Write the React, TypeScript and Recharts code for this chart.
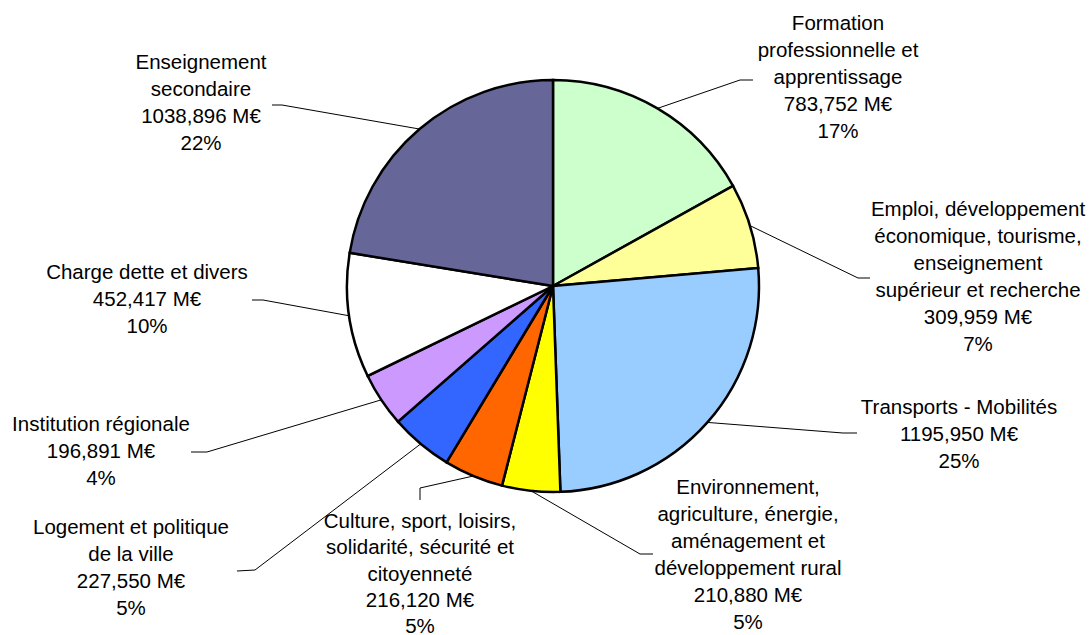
import React from "react";
import { PieChart, Pie, Cell } from "recharts";

// libellés (une ligne par entrée), montants en M€, pourcentages affichés
const NAMES: string[][] = [
  ["Formation", "professionnelle et", "apprentissage"],
  ["Emploi, développement", "économique, tourisme,", "enseignement", "supérieur et recherche"],
  ["Transports - Mobilités"],
  ["Environnement,", "agriculture, énergie,", "aménagement et", "développement rural"],
  ["Culture, sport, loisirs,", "solidarité, sécurité et", "citoyenneté"],
  ["Logement et politique", "de la ville"],
  ["Institution régionale"],
  ["Charge dette et divers"],
  ["Enseignement", "secondaire"],
];
const VALUES = [783.752, 309.959, 1195.95, 210.88, 216.12, 227.55, 196.891, 452.417, 1038.896];
const PERCENTS = ["17%", "7%", "25%", "5%", "5%", "5%", "4%", "10%", "22%"];
const COLORS = ["#CCFFCC", "#FFFF99", "#99CCFF", "#FFFF00", "#FF6600", "#3366FF", "#CC99FF", "#FFFFFF", "#666699"];

// placement des étiquettes : centre du texte (1re ligne), coude et fin du trait de rappel
const LABEL_POS = [
  { tx: 838, ty: 23, ex: 740, ey: 80, hx: 753, hy: 80, lh: 27 },
  { tx: 978, ty: 209, ex: 858, ey: 278, hx: 870, hy: 278, lh: 27 },
  { tx: 959, ty: 407, ex: 843, ey: 433, hx: 857, hy: 433, lh: 27 },
  { tx: 748, ty: 487, ex: 640, ey: 554, hx: 653, hy: 554, lh: 27 },
  { tx: 420, ty: 521, ex: 420, ey: 488, hx: 420, hy: 500, lh: 26.3 },
  { tx: 131, ty: 527, ex: 255, ey: 570, hx: 237, hy: 571, lh: 27 },
  { tx: 101, ty: 424, ex: 207, ey: 452, hx: 191, hy: 452, lh: 27 },
  { tx: 147, ty: 272, ex: 263, ey: 300, hx: 252, hy: 300, lh: 27 },
  { tx: 201, ty: 62, ex: 282, ey: 105, hx: 272, hy: 105, lh: 27 },
];

const data = VALUES.map((v, i) => ({ name: NAMES[i].join(" "), value: v }));
const RAD = Math.PI / 180;

function fmt(v: number) {
  return v.toFixed(3).replace(".", ",") + " M€";
}

function renderLabel(props: any) {
  const { cx, cy, midAngle, outerRadius, index } = props;
  const p = LABEL_POS[index];
  const sx = cx + outerRadius * Math.cos(-midAngle * RAD);
  const sy = cy + outerRadius * Math.sin(-midAngle * RAD);
  const lines = [...NAMES[index], fmt(VALUES[index]), PERCENTS[index]];
  return (
    <g key={"lbl" + index}>
      <polyline points={`${sx},${sy} ${p.ex},${p.ey} ${p.hx},${p.hy}`} fill="none" stroke="#000" strokeWidth={1} />
      <text x={p.tx} y={p.ty + 7} textAnchor="middle" fontFamily="'Liberation Sans', Arial, sans-serif" fontSize={20.5} fill="#000">
        {lines.map((l, j) => (
          <tspan key={j} x={p.tx} dy={j === 0 ? 0 : p.lh}>{l}</tspan>
        ))}
      </text>
    </g>
  );
}

export default function App() {
  return (
    <div style={{ position: "absolute", left: 0, top: 0, width: 1089, height: 635, background: "#fff" }}>
      <PieChart width={1089} height={635} margin={{ top: 0, right: 0, bottom: 0, left: 0 }}>
        <Pie
          data={data}
          dataKey="value"
          cx={553}
          cy={286}
          outerRadius={206}
          startAngle={90}
          endAngle={-270}
          stroke="#000"
          strokeWidth={2.5}
          label={renderLabel}
          labelLine={false}
          isAnimationActive={false}
        >
          {data.map((d, i) => (
            <Cell key={i} fill={COLORS[i]} />
          ))}
        </Pie>
      </PieChart>
    </div>
  );
}
